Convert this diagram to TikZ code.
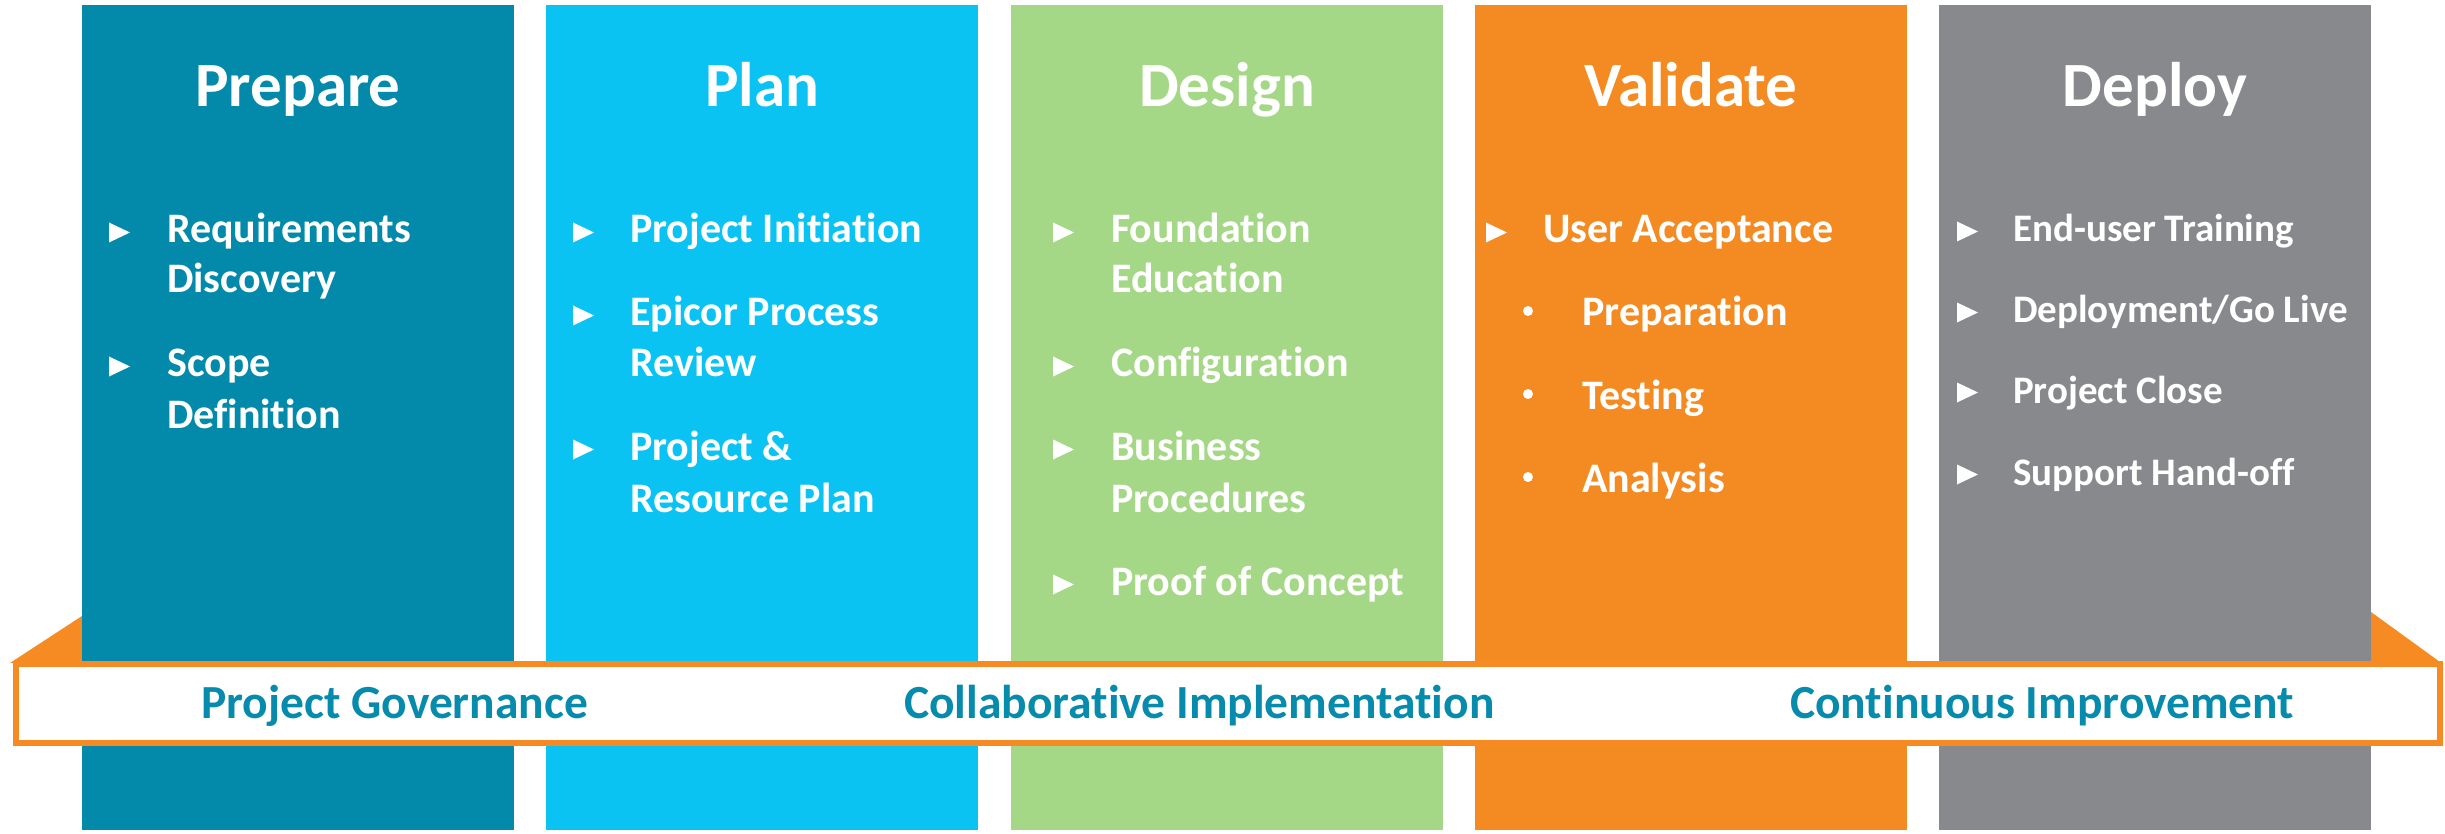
\documentclass[tikz,border=0pt]{standalone}
\usepackage{fontspec}
\setmainfont[Ligatures={NoCommon}]{Carlito}
\definecolor{cPrep}{HTML}{038AAB}
\definecolor{cPlan}{HTML}{0BC3F3}
\definecolor{cDesign}{HTML}{A5D886}
\definecolor{cValid}{HTML}{F48B22}
\definecolor{cDeploy}{HTML}{88898D}
\definecolor{cBand}{HTML}{F58B22}
\definecolor{cBandText}{HTML}{078BAC}
\newcommand\tri[2]{\fill[white] (#1,#2-20.5) -- ++(21,10) -- ++(-21,10) -- cycle;}
\begin{document}
\begin{tikzpicture}[x=1pt,y=-1pt,
  col/.style={anchor=north west, inner sep=0, minimum width=432, minimum height=825},
  title/.style={anchor=base, inner sep=0, text=white, font=\fontsize{63}{70}\selectfont\bfseries},
  item/.style={anchor=base west, inner sep=0, text=white, font=\fontsize{42}{51}\selectfont\bfseries},
  smallitem/.style={item, font=\fontsize{39}{47}\selectfont\bfseries},
  bandtext/.style={anchor=base west, inner sep=0, text=cBandText, font=\fontsize{47.5}{56}\selectfont\bfseries}]
\useasboundingbox (0,0) rectangle (2445,834);
% band end flaps
\fill[cBand] (82,616) -- (10,663) -- (82,663) -- cycle;
\fill[cBand] (2371,612) -- (2440,662) -- (2371,662) -- cycle;
% columns
\node[col, fill=cPrep]   (c1) at (82,5) {};
\node[col, fill=cPlan]   (c2) at (546,5) {};
\node[col, fill=cDesign] (c3) at (1011,5) {};
\node[col, fill=cValid]  (c4) at (1475,5) {};
\node[col, fill=cDeploy] (c5) at (1939,5) {};
% titles
\node[title] (t1) at (298,107) {Prepare};
\node[title] (t2) at (762,107) {Plan};
\node[title] (t3) at (1227,107) {Design};
\node[title] (t4) at (1691,107) {Validate};
\node[title] (t5) at (2155,107) {Deploy};
% Prepare
\tri{109}{243}\node[item] (p1a) at (167,243) {Requirements};
\node[item] (p1b) at (167,293) {Discovery};
\tri{109}{377}\node[item] (p2a) at (167,377) {Scope};
\node[item] (p2b) at (167,428) {Definition};
% Plan
\tri{573}{243}\node[item] (l1) at (630,243) {Project Initiation};
\tri{573}{326}\node[item] (l2a) at (630,326) {Epicor Process};
\node[item] (l2b) at (630,377) {Review};
\tri{573}{460}\node[item] (l3a) at (630,460) {Project \&};
\node[item] (l3b) at (630,512) {Resource Plan};
% Design
\tri{1053}{243}\node[item] (d1a) at (1111,243) {Foundation};
\node[item] (d1b) at (1111,293) {Education};
\tri{1053}{377}\node[item] (d2) at (1111,377) {Configuration};
\tri{1053}{460}\node[item] (d3a) at (1111,460) {Business};
\node[item] (d3b) at (1111,512) {Procedures};
\tri{1053}{595}\node[item] (d4) at (1111,595) {Proof of Concept};
% Validate
\tri{1486}{243}\node[item] (v1) at (1543,243) {User Acceptance};
\fill[white] (1528,311) circle (5);\node[item] (v2) at (1582,326) {Preparation};
\fill[white] (1528,394) circle (5);\node[item] (v3) at (1582,409) {Testing};
\fill[white] (1528,477) circle (5);\node[item] (v4) at (1582,492) {Analysis};
% Deploy
\tri{1957}{242}\node[smallitem] (e1) at (2013,242) {End-user Training};
\tri{1957}{323}\node[smallitem] (e2) at (2013,323) {Deployment/Go Live};
\tri{1957}{403}\node[smallitem] (e3) at (2013,403) {Project Close};
\tri{1957}{485}\node[smallitem] (e4) at (2013,485) {Support Hand-off};
% band
\node[draw=cBand, line width=6, fill=white, anchor=north west, inner sep=0,
      minimum width=2424, minimum height=79] (band) at (13,661) {};
\node[bandtext] (g1) at (201,718) {Project Governance};
\node[bandtext] (g2) at (904,718) {Collaborative Implementation};
\node[bandtext] (g3) at (1790,718) {Continuous Improvement};
\end{tikzpicture}
\end{document}
